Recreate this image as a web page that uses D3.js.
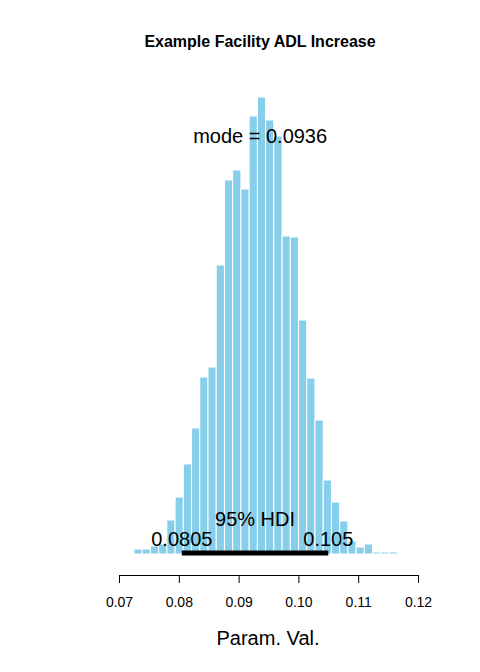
<!DOCTYPE html>
<html><head><meta charset="utf-8">
<script src="https://cdn.jsdelivr.net/npm/d3@7"></script>
<style>body{margin:0;background:#fff}text{font-family:Arial,"Liberation Sans",sans-serif}</style>
</head><body><div id="chart"></div>
<script>
// histogram bin edges start and width, and bar heights (relative counts)
var binStart = 0.0725, binWidth = 0.001376;
var counts = [5,5,8,10,34,57,90,126,177,187,289,374,384,365,438,457,434,418,318,317,234,176,134,74,52,33,13,7,10,2,2,2];
var ticks = [0.07,0.08,0.09,0.10,0.11,0.12];
var tickLabels = ["0.07","0.08","0.09","0.10","0.11","0.12"];
var hdi = [0.0805, 0.105], hdiLabels = ["0.0805","0.105"];
var mode = 0.0936;

var svg = d3.select("#chart").append("svg").attr("width",480).attr("height",672);
var x = d3.scaleLinear().domain([0.07,0.12]).range([119,418]);
var y = d3.scaleLinear().domain([0,457]).range([554,97]);

svg.append("text").attr("x",260).attr("y",47).attr("text-anchor","middle")
  .style("font-weight","bold").style("font-size","16px").text("Example Facility ADL Increase");

svg.selectAll(".bar").data(counts).enter().append("rect")
  .attr("x",function(d,i){return x(binStart+i*binWidth);})
  .attr("width",x(binWidth)-x(0))
  .attr("y",function(d){return y(d);})
  .attr("height",function(d){return y(0)-y(d);})
  .attr("fill","#87CEEB").attr("stroke","white").attr("stroke-width",1);

//axis
var ax = svg.append("g").attr("transform","translate(0,575)")
  .call(d3.axisBottom(x).tickValues(ticks).tickFormat(function(d,i){return tickLabels[i];}).tickSizeOuter(0).tickSize(8).tickPadding(14));
ax.select(".domain").attr("stroke","#000");
ax.selectAll("text").style("font-size","14px").attr("fill","#000");
svg.append("text").attr("x",268).attr("y",645).attr("text-anchor","middle").style("font-size","20px").text("Param. Val.");

//HDI
svg.append("line").attr("x1",x(hdi[0])).attr("x2",x(hdi[1])).attr("y1",553).attr("y2",553)
  .attr("stroke","#000").attr("stroke-width",5);
svg.selectAll(".hl").data(hdi).enter().append("text")
  .attr("x",function(d){return x(d);}).attr("y",546).attr("text-anchor","middle")
  .style("font-size","20px").text(function(d,i){return hdiLabels[i];});
svg.append("text").attr("x",x((hdi[0]+hdi[1])/2)).attr("y",526).attr("text-anchor","middle")
  .style("font-size","20px").text("95% HDI");
svg.append("text").attr("x",x(mode)).attr("y",143).attr("text-anchor","middle")
  .style("font-size","20px").text("mode = " + mode);
</script></body></html>
